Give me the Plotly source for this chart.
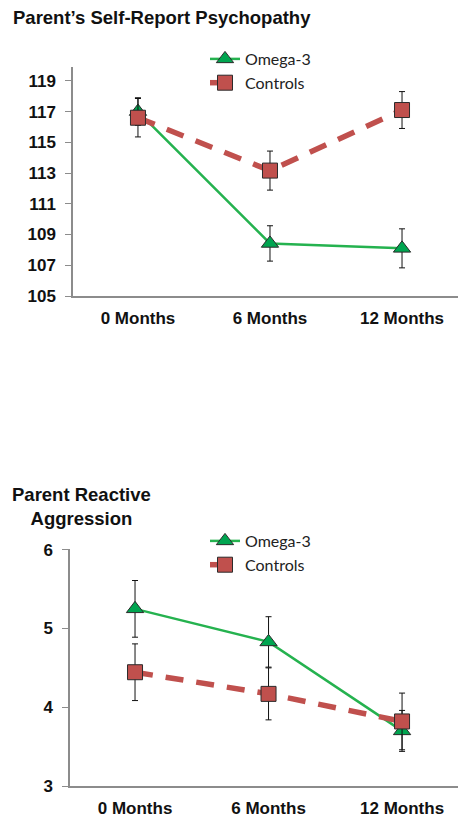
import plotly.graph_objects as go

# Time points shared by both panels
months = ["0 Months", "6 Months", "12 Months"]
xpos = [0, 1, 2]

# Parent's self-report psychopathy (means and standard errors)
psy_omega = [117.0, 108.42, 108.1]
psy_omega_err = [0.9, 1.15, 1.27]
psy_ctrl = [116.6, 113.16, 117.1]
psy_ctrl_err = [1.25, 1.27, 1.2]
psy_ticks = [105, 107, 109, 111, 113, 115, 117, 119]

# Parent reactive aggression (means and standard errors)
agg_omega = [5.25, 4.83, 3.7]
agg_omega_err = [0.36, 0.32, 0.26]
agg_ctrl = [4.445, 4.17, 3.82]
agg_ctrl_err = [0.36, 0.33, 0.36]
agg_ticks = [3, 4, 5, 6]

GREEN_LINE = "#25b24f"
GREEN_FILL = "#00a550"
RED = "#c0504d"
EDGE = "#2b2b2b"
AXIS = "#8c8c8c"

W, H = 458, 823


def ydom(top_px, bottom_px):
    return [(H - bottom_px) / H, (H - top_px) / H]


fig = go.Figure()


def add_pair(omega, omega_err, ctrl, ctrl_err, xa, ya, legend):
    fig.add_trace(go.Scatter(
        x=xpos, y=omega, name="Omega-3", xaxis=xa, yaxis=ya, legend=legend,
        mode="lines+markers",
        line=dict(color=GREEN_LINE, width=2.5),
        marker=dict(symbol="triangle-up", size=15, color=GREEN_FILL,
                    line=dict(color=EDGE, width=1)),
        error_y=dict(type="data", array=omega_err, color="#111111",
                     thickness=1, width=3),
        legendrank=1,
    ))
    fig.add_trace(go.Scatter(
        x=xpos, y=ctrl, name="Controls", xaxis=xa, yaxis=ya, legend=legend,
        mode="lines+markers",
        line=dict(color=RED, width=5.5, dash="18px,13px"),
        marker=dict(symbol="square", size=15, color=RED,
                    line=dict(color=EDGE, width=1)),
        error_y=dict(type="data", array=ctrl_err, color="#111111",
                     thickness=1, width=3),
        legendrank=2,
    ))


add_pair(psy_omega, psy_omega_err, psy_ctrl, psy_ctrl_err, "x", "y", "legend")
add_pair(agg_omega, agg_omega_err, agg_ctrl, agg_ctrl_err, "x2", "y2", "legend2")

tickfont = dict(family="Liberation Sans, Arial, sans-serif", size=17,
                color="#111111", weight="bold")
xcommon = dict(
    tickmode="array", tickvals=xpos, ticktext=months, tickfont=tickfont,
    showgrid=False, zeroline=False, showline=True, linecolor=AXIS,
    linewidth=1.5, ticks="", ticklabelstandoff=6, automargin=False,
    fixedrange=True,
)
ycommon = dict(
    tickfont=tickfont, showgrid=False, zeroline=False, showline=True,
    linecolor=AXIS, linewidth=1.5, ticks="outside", ticklen=6,
    tickcolor=AXIS, ticklabelstandoff=6, automargin=False,
)
legfont = dict(family="Lato, Open Sans, sans-serif", size=16, color="#222222")

fig.update_layout(
    width=W, height=H,
    margin=dict(l=0, r=0, t=0, b=0),
    paper_bgcolor="white", plot_bgcolor="white",
    xaxis=dict(domain=[73 / W, 1], range=[-0.492, 2.424], anchor="y",
               **xcommon),
    yaxis=dict(domain=ydom(67, 296), range=[105, 119.9], anchor="x",
               tickvals=psy_ticks, **ycommon),
    xaxis2=dict(domain=[70 / W, 1], range=[-0.487, 2.419], anchor="y2",
                **xcommon),
    yaxis2=dict(domain=ydom(549, 786), range=[3, 6.01], anchor="x2",
                tickvals=agg_ticks, **ycommon),
    legend=dict(x=205 / W, y=1 - 42 / H, xanchor="left", yanchor="top",
                bgcolor="rgba(0,0,0,0)", itemwidth=30, font=legfont,
                tracegroupgap=0),
    legend2=dict(x=205 / W, y=1 - 524 / H, xanchor="left", yanchor="top",
                 bgcolor="rgba(0,0,0,0)", itemwidth=30, font=legfont,
                 tracegroupgap=0),
    annotations=[
        dict(text="<b>Parent’s Self-Report Psychopathy</b>", xref="paper",
             yref="paper", x=11 / W, y=1 - 17 / H, xanchor="left",
             yanchor="middle", showarrow=False,
             font=dict(family="Liberation Sans, Arial, sans-serif", size=18.5,
                       color="#111111")),
        dict(text="<b>Parent Reactive<br>Aggression</b>", xref="paper",
             yref="paper", x=81 / W, y=1 - 506 / H, xanchor="center",
             yanchor="middle", align="center", showarrow=False,
             font=dict(family="Liberation Sans, Arial, sans-serif", size=18.5,
                       color="#111111")),
    ],
)

fig.write_html("out.html")
